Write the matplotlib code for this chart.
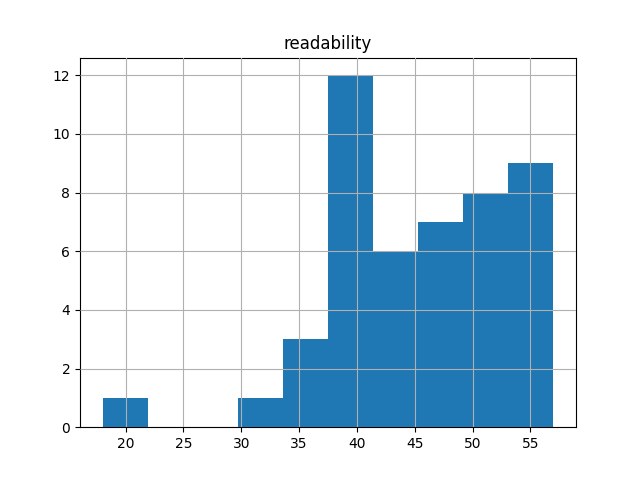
#histogram of readability scores
import numpy as np
import matplotlib
matplotlib.use('Agg')
import matplotlib.pyplot as plt

#data range and bin counts
lo, hi = 18.0, 57.0
counts = [1, 0, 0, 1, 3, 12, 6, 7, 8, 9]

edges = np.linspace(lo, hi, len(counts) + 1)

fig, ax = plt.subplots(figsize=(6.4, 4.8), dpi=100)
ax.hist(edges[:-1], bins=edges, weights=counts, color='#1f77b4')
#grid drawn on top of the bars, as pandas does
ax.set_axisbelow(False)
ax.grid(True)
ax.set_title("readability")
fig.savefig('out.png')
